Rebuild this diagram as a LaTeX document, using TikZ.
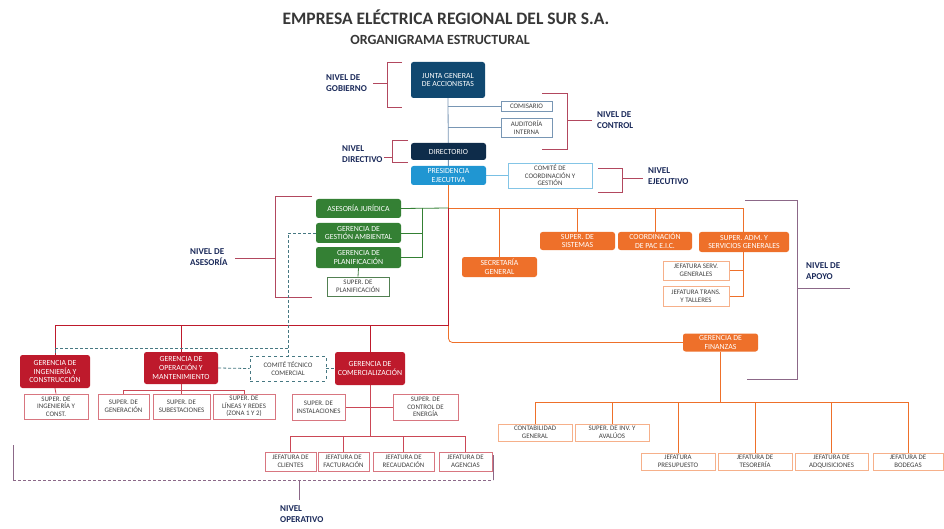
\documentclass[tikz,border=0pt]{standalone}
\usepackage{fontspec}
\setmainfont{Carlito}
\usetikzlibrary{backgrounds}
\definecolor{navyA}{RGB}{16,72,112}
\definecolor{navyB}{RGB}{14,44,74}
\definecolor{skyB}{RGB}{32,150,210}
\definecolor{grnB}{RGB}{52,128,52}
\definecolor{orgB}{RGB}{238,112,42}
\definecolor{redB}{RGB}{190,26,44}
\definecolor{bluLine}{RGB}{120,150,180}
\definecolor{tealL}{RGB}{70,120,130}
\definecolor{brk}{RGB}{178,72,94}
\definecolor{brkP}{RGB}{140,104,136}
\definecolor{lvl}{RGB}{27,42,90}
\definecolor{ttl}{RGB}{55,55,55}
\tikzset{
  fbox/.style={rounded corners=2.5pt, inner sep=0pt, align=center, text=white, font=\fontsize{7.8}{8.8}\selectfont},
  navybox/.style={fbox, fill=navyA},
  dirbox/.style={fbox, fill=navyB},
  skybox/.style={fbox, fill=skyB},
  grnbox/.style={fbox, fill=grnB},
  orgbox/.style={fbox, fill=orgB},
  redbox/.style={fbox, fill=redB},
  obox/.style={inner sep=0pt, align=center, fill=white, line width=0.7pt, text=black!75, font=\fontsize{6.9}{7.6}\selectfont},
  blubox/.style={obox, draw=bluLine},
  skyobox/.style={obox, draw=skyB!55},
  grnobox/.style={obox, draw=grnB!60!gray},
  orgobox/.style={obox, draw=orgB!55},
  redobox/.style={obox, draw=redB!60},
  tealbox/.style={obox, draw=tealL, dashed},
  lvllabel/.style={anchor=west, align=left, text=lvl, font=\fontsize{9}{11.5}\selectfont\bfseries, inner sep=0pt},
  conn/.style={line width=0.8pt},
  bracket/.style={line width=0.9pt, draw=brk},
}
\begin{document}
\begin{tikzpicture}[x=1pt,y=-1pt]
\useasboundingbox (0,0) rectangle (944,529);
% titles
\node[text=ttl, font=\fontsize{17.5}{20}\selectfont\bfseries] (title) at (446,17) {EMPRESA ELÉCTRICA REGIONAL DEL SUR S.A.};
\node[text=ttl, font=\fontsize{14}{16}\selectfont\bfseries] (subtitle) at (440,40) {ORGANIGRAMA ESTRUCTURAL};
% top
\node[navybox, minimum width=74pt, minimum height=36pt] (junta) at (448,80) {JUNTA GENERAL\\DE ACCIONISTAS};
\node[blubox, minimum width=51pt, minimum height=10pt] (comisario) at (526.5,106) {COMISARIO};
\node[blubox, minimum width=51pt, minimum height=19pt] (auditoria) at (526.5,127.5) {AUDITORÍA\\INTERNA};
\node[dirbox, minimum width=75pt, minimum height=17pt] (directorio) at (448.5,151.5) {DIRECTORIO};
\node[skybox, minimum width=75pt, minimum height=19pt] (presidencia) at (448.5,175.5) {PRESIDENCIA\\EJECUTIVA};
\node[skyobox, minimum width=84pt, minimum height=25pt] (comite) at (550,175.5) {COMITÉ DE\\COORDINACIÓN Y\\GESTIÓN};
% green
\node[grnbox, minimum width=85pt, minimum height=19pt] (asesoria) at (358.5,208.5) {ASESORÍA JURÍDICA};
\node[grnbox, minimum width=85pt, minimum height=20pt] (gestion) at (358.5,233) {GERENCIA DE\\GESTIÓN AMBIENTAL};
\node[grnbox, minimum width=85pt, minimum height=21pt] (planif) at (358.5,257.5) {GERENCIA DE\\PLANIFICACIÓN};
\node[grnobox, minimum width=62pt, minimum height=19pt] (superplan) at (358,286.5) {SUPER. DE\\PLANIFICACIÓN};
% orange support
\node[orgbox, minimum width=75pt, minimum height=20pt] (secretaria) at (499.5,267) {SECRETARÍA\\GENERAL};
\node[orgbox, minimum width=75pt, minimum height=18pt] (sistemas) at (577.5,241) {SUPER. DE\\SISTEMAS};
\node[orgbox, minimum width=74pt, minimum height=18pt] (pac) at (655,241) {COORDINACIÓN\\DE PAC E.I.C.};
\node[orgbox, minimum width=90pt, minimum height=20pt] (superadm) at (744,242) {SUPER. ADM. Y\\SERVICIOS GENERALES};
\node[orgobox, minimum width=66pt, minimum height=19pt] (jservgen) at (696,270.5) {JEFATURA SERV.\\GENERALES};
\node[orgobox, minimum width=66pt, minimum height=20pt] (jtrans) at (696,296) {JEFATURA TRANS.\\Y TALLERES};
\node[orgbox, minimum width=75pt, minimum height=18pt] (finanzas) at (720.5,342.5) {GERENCIA DE\\FINANZAS};
\node[orgobox, minimum width=74pt, minimum height=17pt] (contab) at (535,432.5) {CONTABILIDAD\\GENERAL};
\node[orgobox, minimum width=74pt, minimum height=17pt] (superinv) at (612,432.5) {SUPER. DE INV. Y\\AVALÚOS};
\node[orgobox, minimum width=74pt, minimum height=17pt] (jpres) at (678,461.5) {JEFATURA\\PRESUPUESTO};
\node[orgobox, minimum width=74pt, minimum height=17pt] (jtes) at (755,461.5) {JEFATURA DE\\TESORERÍA};
\node[orgobox, minimum width=73pt, minimum height=17pt] (jadq) at (831.5,461.5) {JEFATURA DE\\ADQUISICIONES};
\node[orgobox, minimum width=70pt, minimum height=17pt] (jbod) at (908,461.5) {JEFATURA DE\\BODEGAS};
% red operative
\node[redbox, minimum width=70pt, minimum height=33pt] (ging) at (55,371.5) {GERENCIA DE\\INGENIERÍA Y\\CONSTRUCCIÓN};
\node[redobox, minimum width=64pt, minimum height=25pt] (sing) at (56,406.5) {SUPER. DE\\INGENIERÍA Y\\CONST.};
\node[redbox, minimum width=74pt, minimum height=32pt] (gop) at (181,368) {GERENCIA DE\\OPERACIÓN Y\\MANTENIMIENTO};
\node[redobox, minimum width=51pt, minimum height=25pt] (sgen) at (123.5,406.5) {SUPER. DE\\GENERACIÓN};
\node[redobox, minimum width=57pt, minimum height=25pt] (ssub) at (181.5,406.5) {SUPER. DE\\SUBESTACIONES};
\node[redobox, minimum width=62pt, minimum height=25pt] (slin) at (244,406.5) {SUPER. DE\\LÍNEAS Y REDES\\(ZONA 1 Y 2)};
\node[tealbox, minimum width=76pt, minimum height=25pt] (ctc) at (288,368.5) {COMITÉ TÉCNICO\\COMERCIAL};
\node[redbox, minimum width=70pt, minimum height=33pt] (gcom) at (370,368.5) {GERENCIA DE\\COMERCIALIZACIÓN};
\node[redobox, minimum width=53pt, minimum height=26pt] (sinst) at (318.5,407) {SUPER. DE\\INSTALACIONES};
\node[redobox, minimum width=65pt, minimum height=26pt] (scontrol) at (425.5,407) {SUPER. DE\\CONTROL DE\\ENERGÍA};
\node[redobox, minimum width=51pt, minimum height=19pt] (jcli) at (290.5,461.5) {JEFATURA DE\\CLIENTES};
\node[redobox, minimum width=51pt, minimum height=19pt] (jfac) at (343.5,461.5) {JEFATURA DE\\FACTURACIÓN};
\node[redobox, minimum width=61pt, minimum height=19pt] (jrec) at (403.5,461.5) {JEFATURA DE\\RECAUDACIÓN};
\node[redobox, minimum width=53pt, minimum height=19pt] (jage) at (465.5,461.5) {JEFATURA DE\\AGENCIAS};
% level labels
\node[lvllabel] (lgob) at (326,83) {NIVEL DE\\GOBIERNO};
\node[lvllabel] (lcon) at (597,120) {NIVEL DE\\CONTROL};
\node[lvllabel] (ldir) at (342,154) {NIVEL\\DIRECTIVO};
\node[lvllabel] (leje) at (648,176) {NIVEL\\EJECUTIVO};
\node[lvllabel] (lase) at (190,257) {NIVEL DE\\ASESORÍA};
\node[lvllabel] (lapo) at (806,271) {NIVEL DE\\APOYO};
\node[lvllabel] (lope) at (280,514) {NIVEL\\OPERATIVO};
% junction coordinates
\coordinate (oj) at (448.5,208);
\coordinate (oe) at (743,208);
\coordinate (rj) at (448.5,325);
\coordinate (gj) at (422,208);
\coordinate (tj) at (288,233);
\coordinate (tl) at (288,348);
\coordinate (opj) at (181,390);
\coordinate (cmj) at (370,436);
\coordinate (fj) at (720.5,402);
\begin{scope}[on background layer]
\fill[white] (0,0) rectangle (944,529);
% brackets
\draw[bracket] (402,62) -- (387,62) -- (387,107) -- (402,107);
\draw[bracket] (373,83) -- (387,83);
\draw[bracket] (542,93) -- (567,93) -- (567,149) -- (542,149);
\draw[bracket] (567,120) -- (592,120);
\draw[bracket] (408,140) -- (392,140) -- (392,162) -- (408,162);
\draw[bracket] (384,157) -- (392,157);
\draw[bracket] (598,168) -- (622,168) -- (622,192) -- (598,192);
\draw[bracket] (622,178) -- (643,178);
\draw[bracket] (312,196) -- (275,196) -- (275,297) -- (312,297);
\draw[bracket] (235,258) -- (275,258);
\draw[bracket, draw=brkP] (745,200) -- (797,200) -- (797,379) -- (747,379);
\draw[bracket, draw=brkP] (797,288) -- (850,288);
\draw[bracket, draw=brkP] (13,445) -- (13,480);
\draw[bracket, draw=brkP, densely dashed] (13,480) -- (493,480);
\draw[bracket, draw=brkP] (493,480) -- (493,455);
\draw[bracket, draw=brkP] (299,480) -- (299,500);
% top connectors
\draw[conn, draw=bluLine] (junta.south) -- (presidencia.south);
\draw[conn, draw=bluLine] (junta.south |- comisario.west) -- (comisario.west);
\draw[conn, draw=bluLine] (junta.south |- auditoria.west) -- (auditoria.west);
\draw[conn, draw=skyB!60] (presidencia.east) -- (comite.west);
% orange
\draw[conn, draw=orgB, rounded corners=4pt] (presidencia.south) -- (presidencia.south |- finanzas.west) -- (finanzas.west);
\draw[conn, draw=orgB] (oj) -- (oe) -- (oe |- jtrans.east) -- (jtrans.east);
\draw[conn, draw=orgB] (oe |- jservgen.east) -- (jservgen.east);
\draw[conn, draw=orgB] (oj -| secretaria.north) -- (secretaria.north);
\draw[conn, draw=orgB] (oj -| sistemas.north) -- (sistemas.north);
\draw[conn, draw=orgB] (oj -| pac.north) -- (pac.north);
\draw[conn, draw=orgB] (finanzas.south) -- (fj);
\draw[conn, draw=orgB] (fj -| contab.north) -- (fj -| jbod.north);
\foreach \n in {contab,superinv,jpres,jtes,jadq,jbod} \draw[conn, draw=orgB] (fj -| \n.north) -- (\n.north);
% green
\draw[conn, draw=grnB] (asesoria.east) -- (oj);
\draw[conn, draw=grnB] (gj) -- (gj |- planif.east) -- (planif.east);
\draw[conn, draw=grnB] (gj |- gestion.east) -- (gestion.east);
\draw[conn, draw=grnB!70!gray] (planif.south) -- (superplan.north);
% red
\draw[conn, draw=redB] (oj) -- (rj) -| (ging.north);
\draw[conn, draw=redB] (rj -| gop.north) -- (gop.north);
\draw[conn, draw=redB] (rj -| gcom.north) -- (gcom.north);
\draw[conn, draw=redB!80] (ging.south) -- (sing.north);
\draw[conn, draw=redB!80] (gop.south) -- (opj);
\draw[conn, draw=redB!80] (opj -| sgen.north) -- (opj -| slin.north);
\foreach \n in {sgen,ssub,slin} \draw[conn, draw=redB!80] (opj -| \n.north) -- (\n.north);
\draw[conn, draw=redB!80] (gcom.south) -- (cmj);
\draw[conn, draw=redB!80] (sinst.east) -- (scontrol.west);
\draw[conn, draw=redB!80] (cmj -| jcli.north) -- (cmj -| jage.north);
\foreach \n in {jcli,jfac,jrec,jage} \draw[conn, draw=redB!80] (cmj -| \n.north) -- (\n.north);
% teal dashed
\draw[conn, draw=tealL, densely dashed] (gestion.west) -- (tj) -- (ctc.north);
\draw[conn, draw=tealL, densely dashed] (tl) -- (tl -| ging.north) -- (ging.north);
\draw[conn, draw=tealL, densely dashed] (gop.east) -- (ctc.west);
\draw[conn, draw=tealL, densely dashed] (ctc.east) -- (gcom.west);
\end{scope}
\end{tikzpicture}
\end{document}
